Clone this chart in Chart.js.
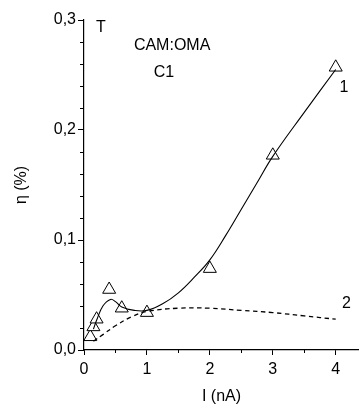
<!DOCTYPE html>
<html><head><meta charset="utf-8">
<script src="https://cdn.jsdelivr.net/npm/chart.js@4/dist/chart.umd.min.js"></script>
<style>html,body{margin:0;padding:0;background:#fff;overflow:hidden}</style>
</head><body>
<canvas id="c" width="359" height="407"></canvas>
<script>
// ---- data ----
const measuredI   = [0.1, 0.15, 0.2, 0.4, 0.6, 1.0, 2.0, 3.0, 4.0];
const measuredEta = [0.012, 0.021, 0.028, 0.055, 0.038, 0.034, 0.074, 0.177, 0.257];

const fit1I   = [0.15, 0.2, 0.3, 0.42, 0.5, 0.6, 0.8, 1.0, 1.25, 1.5, 1.75, 2.0, 2.25, 2.5, 2.75, 3.0, 3.5, 4.0];
const fit1Eta = [0.019, 0.027, 0.040, 0.046, 0.044, 0.039, 0.036, 0.036, 0.042, 0.052, 0.066, 0.082, 0.104, 0.128, 0.152, 0.176, 0.216, 0.255];

const fit2I   = [0.15, 0.3, 0.5, 0.75, 1.0, 1.5, 2.0, 2.5, 3.0, 3.5, 4.0];
const fit2Eta = [0.008, 0.014, 0.022, 0.030, 0.035, 0.038, 0.038, 0.036, 0.034, 0.031, 0.028];

const xMajorTicks = [0, 1, 2, 3, 4];
const yMajorTicks = [0.0, 0.1, 0.2, 0.3];
const xTitle = 'I (nA)';
const yTitle = 'η (%)';
const labelTexts = ['T', 'CAM:OMA', 'C1', '1', '2'];

// ---- layout / styling ----
const FONT = '"Liberation Sans", Arial, sans-serif';
const labelPos = [[0.27, 0.293], [1.40, 0.277], [1.27, 0.252], [4.13, 0.239], [4.17, 0.042]];

const toXY = (xs, ys) => xs.map((x, i) => ({x, y: ys[i]}));
const fmt = v => v.toFixed(1).replace('.', ',');

const minorTicks = {
  id: 'minorTicks',
  afterDraw(chart) {
    const ctx = chart.ctx, xs = chart.scales.x, ys = chart.scales.y;
    ctx.save();
    ctx.strokeStyle = '#000'; ctx.lineWidth = 1;
    ctx.beginPath();
    for (let v = 0.5; v < 4.37; v += 1) {
      const px = Math.round(xs.getPixelForValue(v)) + 0.5;
      ctx.moveTo(px, ys.bottom); ctx.lineTo(px, ys.bottom + 3);
    }
    for (let k = 0; k <= 15; k++) {
      const v = k * 0.02;
      if (k % 5 === 0) continue;
      const py = Math.round(ys.getPixelForValue(v)) + 0.5;
      ctx.moveTo(xs.left, py); ctx.lineTo(xs.left - 4, py);
    }
    ctx.stroke();
    ctx.fillStyle = '#000';
    ctx.font = '16px ' + FONT;
    ctx.textAlign = 'center'; ctx.textBaseline = 'middle';
    labelTexts.forEach((t, i) => {
      ctx.fillText(t, xs.getPixelForValue(labelPos[i][0]), ys.getPixelForValue(labelPos[i][1]));
    });
    ctx.restore();
  }
};

new Chart(document.getElementById('c'), {
  type: 'scatter',
  data: {
    datasets: [
      { data: toXY(fit1I, fit1Eta), showLine: true, borderColor: '#000', borderWidth: 1.1,
        pointRadius: 0, tension: 0.4, fill: false },
      { data: toXY(fit2I, fit2Eta), showLine: true, borderColor: '#000', borderWidth: 1.3,
        borderDash: [4.5, 3.5], pointRadius: 0, tension: 0.4, fill: false },
      { data: toXY(measuredI, measuredEta), showLine: false, pointStyle: 'triangle', clip: false,
        pointRadius: 7.5, pointBorderColor: '#000', pointBackgroundColor: '#fff', pointBorderWidth: 1 }
    ]
  },
  options: {
    responsive: false, animation: false, devicePixelRatio: 1,
    layout: { autoPadding: false, padding: { top: 20, right: 0, bottom: 0, left: 0 } },
    plugins: { legend: { display: false }, tooltip: { enabled: false } },
    scales: {
      x: {
        type: 'linear', position: 'bottom', min: 0, max: 4.37,
        afterBuildTicks: s => { s.ticks = xMajorTicks.map(v => ({value: v})); },
        afterFit: s => { s.height = 57; s.paddingRight = 0; s.paddingLeft = 0; },
        ticks: { color: '#000', font: { family: FONT, size: 16 }, padding: 5, autoSkip: false, maxRotation: 0,
                 callback: v => String(v) },
        grid: { display: true, drawOnChartArea: false, drawTicks: true, tickLength: 5, tickColor: '#000', tickWidth: 1 },
        border: { display: true, color: '#000', width: 1.2 },
        title: { display: true, text: xTitle, color: '#000', font: { family: FONT, size: 16 }, padding: { top: 0, bottom: 1 } }
      },
      y: {
        type: 'linear', position: 'left', min: 0, max: 0.3,
        afterBuildTicks: s => { s.ticks = yMajorTicks.map(v => ({value: v})); },
        afterFit: s => { s.width = 84; s.paddingTop = 0; s.paddingBottom = 0; },
        ticks: { color: '#000', font: { family: FONT, size: 16 }, padding: 2, autoSkip: false,
                 callback: v => fmt(v) },
        grid: { display: true, drawOnChartArea: false, drawTicks: true, tickLength: 6, tickColor: '#000', tickWidth: 1 },
        border: { display: true, color: '#000', width: 1.2 },
        title: { display: true, text: yTitle, color: '#000', font: { family: FONT, size: 16 }, padding: { top: 12, bottom: 0 } }
      }
    }
  },
  plugins: [minorTicks]
});
</script>
</body></html>
